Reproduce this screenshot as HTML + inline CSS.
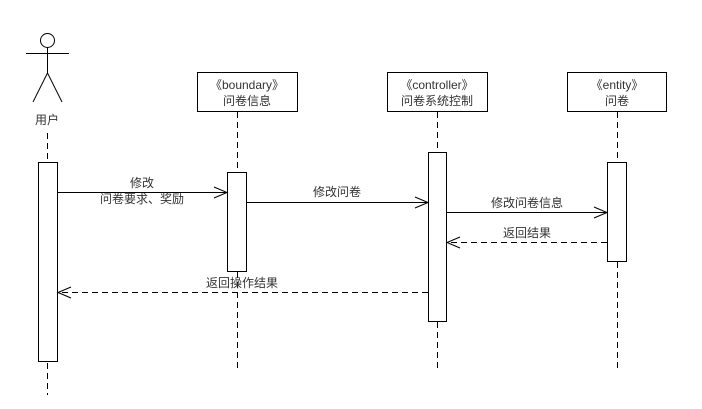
<!DOCTYPE html>
<html><head><meta charset="utf-8"><style>body{margin:0;background:#fff}</style></head><body>
<svg width="702" height="404" xmlns="http://www.w3.org/2000/svg" font-family="Liberation Sans, Noto Sans CJK SC, sans-serif" font-size="12" fill="#333">
<g stroke="#000" fill="none" stroke-width="1">
<circle cx="47.5" cy="40.5" r="7"/>
<line x1="47.5" y1="47.5" x2="47.5" y2="73"/>
<line x1="26" y1="53.5" x2="69" y2="53.5"/>
<line x1="47.5" y1="73" x2="33" y2="102"/>
<line x1="47.5" y1="73" x2="62" y2="102"/>
<g stroke-dasharray="6,4">
<line x1="47.5" y1="133" x2="47.5" y2="395"/>
<line x1="237.5" y1="112" x2="237.5" y2="370"/>
<line x1="437.5" y1="112" x2="437.5" y2="370"/>
<line x1="617.5" y1="112" x2="617.5" y2="370"/>
</g>
<rect x="197.5" y="72.5" width="100" height="39" fill="#fff"/>
<rect x="387.5" y="72.5" width="100" height="39" fill="#fff"/>
<rect x="567.5" y="72.5" width="99" height="39" fill="#fff"/>
<rect x="38.5" y="162.5" width="19" height="199" fill="#fff"/>
<rect x="227.5" y="172.5" width="19" height="99" fill="#fff"/>
<rect x="428.5" y="152.5" width="18" height="169" fill="#fff"/>
<rect x="607.5" y="162.5" width="19" height="99" fill="#fff"/>
<line x1="57" y1="192.5" x2="227" y2="192.5"/><polyline points="214,187 227,192.5 214,198"/>
<line x1="246" y1="202.5" x2="428" y2="202.5"/><polyline points="415,197 428,202.5 415,208"/>
<line x1="446" y1="212.5" x2="607" y2="212.5"/><polyline points="594,207 607,212.5 594,218"/>
<g stroke-dasharray="6,4"><line x1="607" y1="242.5" x2="447" y2="242.5"/><line x1="428" y1="292.5" x2="58" y2="292.5"/></g>
<polyline points="460,237 447,242.5 460,248"/>
<polyline points="71,287 58,292.5 71,298"/>
</g>
<g text-anchor="middle">
<text x="47" y="124">用户</text>
<text x="247" y="89">《boundary》</text><text x="247" y="105">问卷信息</text>
<text x="437" y="89">《controller》</text><text x="437" y="105">问卷系统控制</text>
<text x="617" y="89">《entity》</text><text x="617" y="105">问卷</text>
<text x="142" y="187">修改</text><text x="142" y="203">问卷要求、奖励</text>
<text x="337" y="196">修改问卷</text>
<text x="527" y="207">修改问卷信息</text>
<text x="527" y="237">返回结果</text>
<text x="242" y="287">返回操作结果</text>
</g>
</svg>
</body></html>
